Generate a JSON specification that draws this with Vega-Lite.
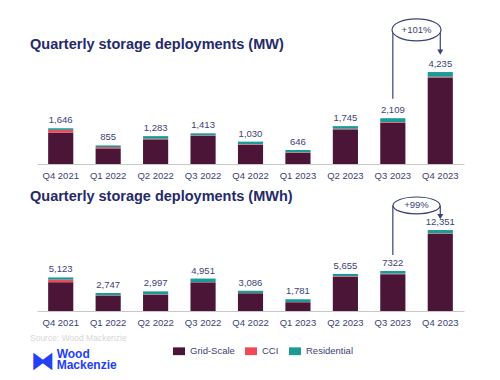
{
  "$schema": "https://vega.github.io/schema/vega-lite/v6.json",
  "background": "white",
  "padding": {"left": 30, "top": 12, "right": 5, "bottom": 5},
  "config": {
    "font": "Liberation Sans",
    "view": {"stroke": null},
    "axisX": {"domainColor": "#c8c8c8", "ticks": false, "labelPadding": 6, "labelFontSize": 9.5, "labelColor": "#3b4275", "labelAngle": 0, "title": null, "grid": false}
  },
  "datasets": {
    "mw": [
      {"q": "Q4 2021", "type": "Grid-Scale", "value": 1448}, {"q": "Q4 2021", "type": "CCI", "value": 122}, {"q": "Q4 2021", "type": "Residential", "value": 76},
      {"q": "Q1 2022", "type": "Grid-Scale", "value": 719}, {"q": "Q1 2022", "type": "CCI", "value": 60}, {"q": "Q1 2022", "type": "Residential", "value": 76},
      {"q": "Q2 2022", "type": "Grid-Scale", "value": 1133}, {"q": "Q2 2022", "type": "CCI", "value": 30}, {"q": "Q2 2022", "type": "Residential", "value": 120},
      {"q": "Q3 2022", "type": "Grid-Scale", "value": 1303}, {"q": "Q3 2022", "type": "CCI", "value": 20}, {"q": "Q3 2022", "type": "Residential", "value": 90},
      {"q": "Q4 2022", "type": "Grid-Scale", "value": 880}, {"q": "Q4 2022", "type": "CCI", "value": 30}, {"q": "Q4 2022", "type": "Residential", "value": 120},
      {"q": "Q1 2023", "type": "Grid-Scale", "value": 516}, {"q": "Q1 2023", "type": "CCI", "value": 20}, {"q": "Q1 2023", "type": "Residential", "value": 110},
      {"q": "Q2 2023", "type": "Grid-Scale", "value": 1595}, {"q": "Q2 2023", "type": "CCI", "value": 30}, {"q": "Q2 2023", "type": "Residential", "value": 120},
      {"q": "Q3 2023", "type": "Grid-Scale", "value": 1899}, {"q": "Q3 2023", "type": "CCI", "value": 30}, {"q": "Q3 2023", "type": "Residential", "value": 180},
      {"q": "Q4 2023", "type": "Grid-Scale", "value": 3983}, {"q": "Q4 2023", "type": "CCI", "value": 34}, {"q": "Q4 2023", "type": "Residential", "value": 218}
    ],
    "mwTotals": [
      {"q": "Q4 2021", "total": 1646, "label": "1,646"}, {"q": "Q1 2022", "total": 855, "label": "855"},
      {"q": "Q2 2022", "total": 1283, "label": "1,283"}, {"q": "Q3 2022", "total": 1413, "label": "1,413"},
      {"q": "Q4 2022", "total": 1030, "label": "1,030"}, {"q": "Q1 2023", "total": 646, "label": "646"},
      {"q": "Q2 2023", "total": 1745, "label": "1,745"}, {"q": "Q3 2023", "total": 2109, "label": "2,109"},
      {"q": "Q4 2023", "total": 4235, "label": "4,235"}
    ],
    "mwh": [
      {"q": "Q4 2021", "type": "Grid-Scale", "value": 4393}, {"q": "Q4 2021", "type": "CCI", "value": 390}, {"q": "Q4 2021", "type": "Residential", "value": 340},
      {"q": "Q1 2022", "type": "Grid-Scale", "value": 2357}, {"q": "Q1 2022", "type": "CCI", "value": 50}, {"q": "Q1 2022", "type": "Residential", "value": 340},
      {"q": "Q2 2022", "type": "Grid-Scale", "value": 2507}, {"q": "Q2 2022", "type": "CCI", "value": 50}, {"q": "Q2 2022", "type": "Residential", "value": 440},
      {"q": "Q3 2022", "type": "Grid-Scale", "value": 4371}, {"q": "Q3 2022", "type": "CCI", "value": 40}, {"q": "Q3 2022", "type": "Residential", "value": 540},
      {"q": "Q4 2022", "type": "Grid-Scale", "value": 2706}, {"q": "Q4 2022", "type": "CCI", "value": 40}, {"q": "Q4 2022", "type": "Residential", "value": 340},
      {"q": "Q1 2023", "type": "Grid-Scale", "value": 1351}, {"q": "Q1 2023", "type": "CCI", "value": 40}, {"q": "Q1 2023", "type": "Residential", "value": 390},
      {"q": "Q2 2023", "type": "Grid-Scale", "value": 5215}, {"q": "Q2 2023", "type": "CCI", "value": 100}, {"q": "Q2 2023", "type": "Residential", "value": 340},
      {"q": "Q3 2023", "type": "Grid-Scale", "value": 5620}, {"q": "Q3 2023", "type": "CCI", "value": 80}, {"q": "Q3 2023", "type": "Residential", "value": 400},
      {"q": "Q4 2023", "type": "Grid-Scale", "value": 11781}, {"q": "Q4 2023", "type": "CCI", "value": 80}, {"q": "Q4 2023", "type": "Residential", "value": 490}
    ],
    "mwhTotals": [
      {"q": "Q4 2021", "total": 5123, "label": "5,123"}, {"q": "Q1 2022", "total": 2747, "label": "2,747"},
      {"q": "Q2 2022", "total": 2997, "label": "2,997"}, {"q": "Q3 2022", "total": 4951, "label": "4,951"},
      {"q": "Q4 2022", "total": 3086, "label": "3,086"}, {"q": "Q1 2023", "total": 1781, "label": "1,781"},
      {"q": "Q2 2023", "total": 5655, "label": "5,655"}, {"q": "Q3 2023", "total": 6100, "label": "7322"},
      {"q": "Q4 2023", "total": 12351, "label": "12,351"}
    ]
  },
  "spacing": 9,
  "title": {
    "text": "Source: Wood Mackenzie",
    "subtitle": ["\u200b\u00a0\u00a0\u00a0\u00a0\u00a0\u00a0\u00a0\u00a0Wood", "\u200b\u00a0\u00a0\u00a0\u00a0\u00a0\u00a0\u00a0\u00a0Mackenzie"],
    "orient": "bottom", "anchor": "start", "frame": "bounds", "offset": -39,
    "fontSize": 8.5, "fontWeight": "normal", "color": "#d6d6d6",
    "subtitleFontSize": 12, "subtitleFontWeight": "bold", "subtitleColor": "#2440f5", "subtitleLineHeight": 11, "subtitlePadding": 6
  },
  "vconcat": [
    {
      "width": 427, "height": 152,
      "title": {"text": "Quarterly storage deployments (MW)", "anchor": "start", "frame": "group", "offset": -40, "dx": -7, "fontSize": 14.5, "fontWeight": "bold", "color": "#252a6a"},
      "layer": [
        {
          "data": {"name": "mw"},
          "transform": [{"calculate": "indexof(['Grid-Scale','CCI','Residential'], datum.type)", "as": "stackOrder"}],
          "mark": {"type": "bar"},
          "encoding": {
            "x": {"field": "q", "type": "nominal", "scale": {"domain": ["Q4 2021","Q1 2022","Q2 2022","Q3 2022","Q4 2022","Q1 2023","Q2 2023","Q3 2023","Q4 2023"], "paddingInner": 0.47, "paddingOuter": 0.235}},
            "y": {"field": "value", "type": "quantitative", "stack": "zero", "scale": {"domain": [0, 6909]}, "axis": null},
            "order": {"field": "stackOrder", "type": "quantitative", "sort": "ascending"},
            "color": {"field": "type", "type": "nominal", "sort": ["Grid-Scale", "CCI", "Residential"],
              "scale": {"domain": ["Grid-Scale", "CCI", "Residential"], "range": ["#4b1538", "#f04a5a", "#1a9b95"]},
              "legend": {"title": null, "orient": "none", "direction": "horizontal", "legendX": 136, "legendY": 333, "symbolType": "M-1,-0.65H1V0.65H-1Z", "symbolSize": 144, "symbolStrokeWidth": 0, "labelFontSize": 9.5, "labelColor": "#3b4275", "labelOffset": 5, "columnPadding": 10}}
          }
        },
        {
          "data": {"name": "mwTotals"},
          "mark": {"type": "text", "baseline": "bottom", "dy": -3, "fontSize": 9.5, "color": "#3b4275"},
          "encoding": {
            "x": {"field": "q", "type": "nominal"},
            "y": {"field": "total", "type": "quantitative"},
            "text": {"field": "label"}
          }
        },
        {
          "data": {"values": [{"q": "Q3 2023", "from": 3000, "to": 6180}, {"q": "Q4 2023", "from": 5250, "to": 6180}]},
          "mark": {"type": "rule", "color": "#3b4275", "strokeWidth": 1.2},
          "encoding": {
            "x": {"field": "q", "type": "nominal"},
            "y": {"field": "from", "type": "quantitative"},
            "y2": {"field": "to"}
          }
        },
        {
          "data": {"values": [{"q": "Q4 2023", "v": 5150}]},
          "mark": {"type": "point", "shape": "triangle-down", "size": 35, "filled": true, "color": "#3b4275", "opacity": 1},
          "encoding": {
            "x": {"field": "q", "type": "nominal"},
            "y": {"field": "v", "type": "quantitative"}
          }
        },
        {
          "data": {"values": [{"q": "Q3 2023", "v": 6180}]},
          "mark": {"type": "point", "shape": "M-1,0A1,0.45 0 1,1 1,0A1,0.45 0 1,1 -1,0Z", "size": 2401, "filled": false, "fill": "white", "fillOpacity": 1, "stroke": "#3b4275", "strokeWidth": 1.2, "opacity": 1, "xOffset": 23.7},
          "encoding": {
            "x": {"field": "q", "type": "nominal"},
            "y": {"field": "v", "type": "quantitative"}
          }
        },
        {
          "data": {"values": [{"q": "Q3 2023", "v": 6180, "label": "+101%"}]},
          "mark": {"type": "text", "fontSize": 9.5, "color": "#3b4275", "xOffset": 23.7, "baseline": "middle"},
          "encoding": {
            "x": {"field": "q", "type": "nominal"},
            "y": {"field": "v", "type": "quantitative"},
            "text": {"field": "label"}
          }
        }
      ]
    },
    {
      "width": 427, "height": 118,
      "title": {"text": "Quarterly storage deployments (MWh)", "anchor": "start", "frame": "group", "offset": -11.5, "dx": -7, "fontSize": 14.5, "fontWeight": "bold", "color": "#252a6a"},
      "layer": [
        {
          "data": {"name": "mwh"},
          "transform": [{"calculate": "indexof(['Grid-Scale','CCI','Residential'], datum.type)", "as": "stackOrder"}],
          "mark": {"type": "bar"},
          "encoding": {
            "x": {"field": "q", "type": "nominal", "scale": {"domain": ["Q4 2021","Q1 2022","Q2 2022","Q3 2022","Q4 2022","Q1 2023","Q2 2023","Q3 2023","Q4 2023"], "paddingInner": 0.47, "paddingOuter": 0.235},
              "axis": {"title": "\u29d3", "titleFont": "DejaVu Sans", "titleFontSize": 24, "titleColor": "#2440f5", "titleAnchor": "start", "titleX": -7, "titleY": 50, "titleAlign": "left", "titleBaseline": "middle"}},
            "y": {"field": "value", "type": "quantitative", "stack": "zero", "scale": {"domain": [0, 17350]}, "axis": null},
            "order": {"field": "stackOrder", "type": "quantitative", "sort": "ascending"},
            "color": {"field": "type", "type": "nominal", "sort": ["Grid-Scale", "CCI", "Residential"],
              "scale": {"domain": ["Grid-Scale", "CCI", "Residential"], "range": ["#4b1538", "#f04a5a", "#1a9b95"]},
              "legend": {"title": null, "orient": "none", "direction": "horizontal", "legendX": 136, "legendY": 333, "symbolType": "M-1,-0.65H1V0.65H-1Z", "symbolSize": 144, "symbolStrokeWidth": 0, "labelFontSize": 9.5, "labelColor": "#3b4275", "labelOffset": 5, "columnPadding": 10}}
          }
        },
        {
          "data": {"name": "mwhTotals"},
          "mark": {"type": "text", "baseline": "bottom", "dy": -3, "fontSize": 9.5, "color": "#3b4275"},
          "encoding": {
            "x": {"field": "q", "type": "nominal"},
            "y": {"field": "total", "type": "quantitative"},
            "text": {"field": "label"}
          }
        },
        {
          "data": {"values": [{"q": "Q3 2023", "from": 8530, "to": 16100}, {"q": "Q4 2023", "from": 14700, "to": 16100}]},
          "mark": {"type": "rule", "color": "#3b4275", "strokeWidth": 1.2},
          "encoding": {
            "x": {"field": "q", "type": "nominal"},
            "y": {"field": "from", "type": "quantitative"},
            "y2": {"field": "to"}
          }
        },
        {
          "data": {"values": [{"q": "Q4 2023", "v": 14400}]},
          "mark": {"type": "point", "shape": "triangle-down", "size": 35, "filled": true, "color": "#3b4275", "opacity": 1},
          "encoding": {
            "x": {"field": "q", "type": "nominal"},
            "y": {"field": "v", "type": "quantitative"}
          }
        },
        {
          "data": {"values": [{"q": "Q3 2023", "v": 16100}]},
          "mark": {"type": "point", "shape": "M-1,0A1,0.36 0 1,1 1,0A1,0.36 0 1,1 -1,0Z", "size": 2209, "filled": false, "fill": "white", "fillOpacity": 1, "stroke": "#3b4275", "strokeWidth": 1.2, "opacity": 1, "xOffset": 23.7},
          "encoding": {
            "x": {"field": "q", "type": "nominal"},
            "y": {"field": "v", "type": "quantitative"}
          }
        },
        {
          "data": {"values": [{"q": "Q3 2023", "v": 16100, "label": "+99%"}]},
          "mark": {"type": "text", "fontSize": 9.5, "color": "#3b4275", "xOffset": 23.7, "baseline": "middle"},
          "encoding": {
            "x": {"field": "q", "type": "nominal"},
            "y": {"field": "v", "type": "quantitative"},
            "text": {"field": "label"}
          }
        }
      ]
    }
  ]
}
